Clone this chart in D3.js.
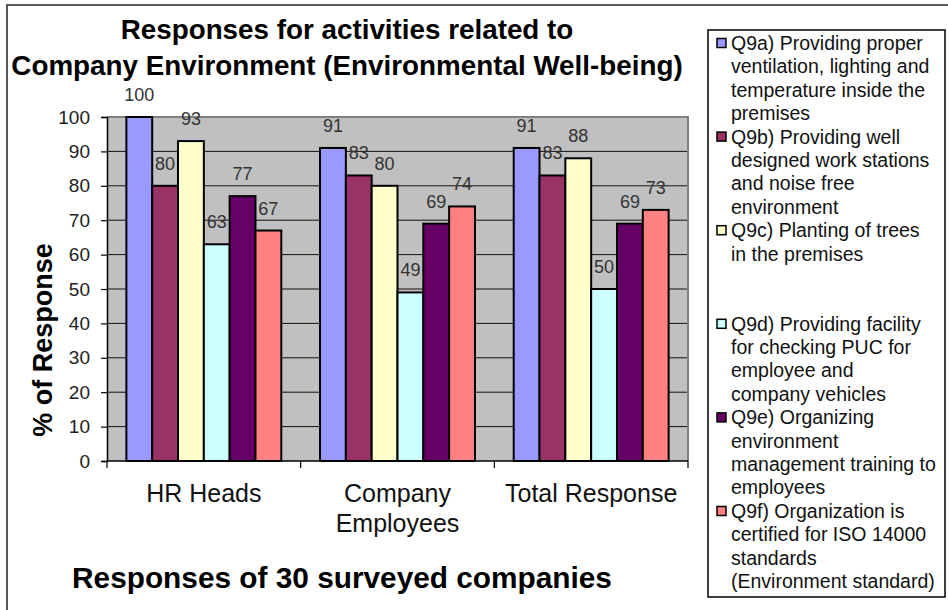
<!DOCTYPE html>
<html>
<head>
<meta charset="utf-8">
<script src="https://cdn.jsdelivr.net/npm/d3@7"></script>
<style>
  html, body { margin: 0; padding: 0; background: #fff; }
  svg { display: block; font-family: "Liberation Sans", Arial, sans-serif; }
</style>
</head>
<body>
<svg id="chart" width="948" height="610"></svg>
<script>
// Survey groups along the x axis
const categories = ["HR Heads", "Company Employees", "Total Response"];

// Percentage of positive responses per activity (Q9a..Q9f)
const seriesNames = [
  "Q9a) Providing proper ventilation, lighting and temperature inside the premises",
  "Q9b) Providing well designed work stations and noise free environment",
  "Q9c) Planting of trees in the premises",
  "Q9d) Providing facility for checking PUC for employee and company vehicles",
  "Q9e) Organizing environment management training to employees",
  "Q9f) Organization is certified for ISO 14000 standards (Environment standard)"
];
const q9a = [100, 91, 91];
const q9b = [80, 83, 83];
const q9c = [93, 80, 88];
const q9d = [63, 49, 50];
const q9e = [77, 69, 69];
const q9f = [67, 74, 73];
const seriesValues = [q9a, q9b, q9c, q9d, q9e, q9f];

// Legend text, broken into the lines shown in the legend box
const legendLines = [
  ["Q9a) Providing proper", "ventilation, lighting and", "temperature inside the", "premises"],
  ["Q9b) Providing well", "designed work stations", "and noise free", "environment"],
  ["Q9c) Planting of trees", "in the premises"],
  ["Q9d) Providing facility", "for checking PUC for", "employee and", "company vehicles"],
  ["Q9e) Organizing", "environment", "management training to", "employees"],
  ["Q9f) Organization is", "certified for ISO 14000", "standards", "(Environment standard)"]
];

const yTicks = [0, 10, 20, 30, 40, 50, 60, 70, 80, 90, 100];
const colors = ["#9999FF", "#993366", "#FFFFCC", "#CCFFFF", "#660066", "#FF8080"];

const titleLines = ["Responses for activities related to", "Company Environment (Environmental Well-being)"];
const xTitle = "Responses of 30 surveyed companies";
const yTitle = "% of Response";

const svg = d3.select("#chart");

// Outer frame (top and left edges)
svg.append("path")
  .attr("d", "M7,610 L7,5 L948,5")
  .attr("fill", "none").attr("stroke", "#222").attr("stroke-width", 1.5);

// Plot area geometry
const plot = { left: 107, right: 688, top: 117, bottom: 461 };

const x0 = d3.scaleBand().domain(categories).range([plot.left, plot.right]).paddingInner(0).paddingOuter(0);
const y = d3.scaleLinear().domain([0, 100]).range([plot.bottom, plot.top]);

// Bars: 6 per group with a 150% gap width split on both sides
const barW = x0.bandwidth() / 7.5;
const x1 = d3.scaleBand().domain(d3.range(seriesValues.length))
  .range([0.75 * barW, x0.bandwidth() - 0.75 * barW]).padding(0);

// Gray plot background
svg.append("rect")
  .attr("x", plot.left).attr("y", plot.top)
  .attr("width", plot.right - plot.left).attr("height", plot.bottom - plot.top)
  .attr("fill", "#C0C0C0");

// Horizontal gridlines
svg.append("g").selectAll("line")
  .data(yTicks.filter(t => t > 0 && t < 100))
  .join("line")
  .attr("x1", plot.left).attr("x2", plot.right)
  .attr("y1", d => y(d)).attr("y2", d => y(d))
  .attr("stroke", "#111").attr("stroke-width", 1);

// Plot border (top and right in gray)
svg.append("path")
  .attr("d", `M${plot.left},${plot.top} L${plot.right},${plot.top} L${plot.right},${plot.bottom}`)
  .attr("fill", "none").attr("stroke", "#808080").attr("stroke-width", 2);

// Bars
const rows = [];
categories.forEach((c, ci) => {
  seriesValues.forEach((vals, si) => rows.push({ cat: c, s: si, v: vals[ci] }));
});

svg.append("g").selectAll("rect")
  .data(rows)
  .join("rect")
  .attr("x", d => x0(d.cat) + x1(d.s))
  .attr("y", d => y(d.v))
  .attr("width", x1.bandwidth())
  .attr("height", d => y(0) - y(d.v))
  .attr("fill", d => colors[d.s])
  .attr("stroke", "#000").attr("stroke-width", 2);

// Value labels above bars
svg.append("g").selectAll("text")
  .data(rows)
  .join("text")
  .attr("x", d => x0(d.cat) + x1(d.s) + x1.bandwidth() / 2)
  .attr("y", d => y(d.v) - 16)
  .attr("text-anchor", "middle")
  .attr("font-size", 18)
  .attr("fill", "#333")
  .text(d => d.v);

// Y axis
const yAxis = d3.axisLeft(y).tickValues(yTicks).tickSize(6).tickPadding(11);
const gy = svg.append("g").attr("transform", `translate(${plot.left},0)`).call(yAxis);
gy.select(".domain").attr("stroke", "#000").attr("stroke-width", 1.5);
gy.selectAll(".tick line").attr("stroke", "#000").attr("stroke-width", 1.2);
gy.selectAll(".tick text").attr("font-size", 19).attr("fill", "#222")
  .attr("font-family", "Liberation Sans, Arial, sans-serif");

// X axis with ticks at category boundaries
const gx = svg.append("g").attr("transform", `translate(0,${plot.bottom})`);
gx.append("line").attr("x1", plot.left).attr("x2", plot.right)
  .attr("stroke", "#000").attr("stroke-width", 1.5);
const boundaries = categories.map(c => x0(c)).concat([x0(categories[categories.length - 1]) + x0.bandwidth()]);
gx.selectAll("line.tk").data(boundaries).join("line").attr("class", "tk")
  .attr("x1", d => d).attr("x2", d => d).attr("y1", 0).attr("y2", 7)
  .attr("stroke", "#000").attr("stroke-width", 1.2);

// Category labels, wrapped to the band width
const catText = svg.append("g").selectAll("text")
  .data(categories)
  .join("text")
  .attr("text-anchor", "middle")
  .attr("font-size", 25)
  .attr("fill", "#111");
catText.each(function (c) {
  const t = d3.select(this);
  const cx = x0(c) + x0.bandwidth() / 2;
  t.text(c);
  let lines = [c];
  if (this.getComputedTextLength() > x0.bandwidth()) lines = c.split(" ");
  t.text(null);
  lines.forEach((ln, i) => {
    t.append("tspan").attr("x", cx).attr("y", 502 + i * 30).text(ln);
  });
});

// Chart title
svg.append("g").selectAll("text")
  .data(titleLines)
  .join("text")
  .attr("x", 347)
  .attr("y", (d, i) => 39 + i * 36)
  .attr("text-anchor", "middle")
  .attr("font-size", 27.8).attr("font-weight", "bold")
  .attr("fill", "#000")
  .text(d => d);

// Axis titles
svg.append("text")
  .attr("x", 342).attr("y", 588)
  .attr("text-anchor", "middle")
  .attr("font-size", 29.8).attr("font-weight", "bold")
  .attr("fill", "#000")
  .text(xTitle);

svg.append("text")
  .attr("transform", "translate(52,340) rotate(-90)")
  .attr("text-anchor", "middle")
  .attr("font-size", 27).attr("font-weight", "bold")
  .attr("fill", "#000")
  .text(yTitle);

// Legend
const legend = svg.append("g");
legend.append("rect")
  .attr("x", 708).attr("y", 30).attr("width", 237).attr("height", 567)
  .attr("fill", "#fff").attr("stroke", "#000").attr("stroke-width", 1.5);

const entryH = 93.6, lineH = 23.3, firstY = 43;
legendLines.forEach((lines, i) => {
  const cy = firstY + i * entryH;
  legend.append("rect")
    .attr("x", 717).attr("y", cy - 4.5).attr("width", 9).attr("height", 9)
    .attr("fill", colors[i]).attr("stroke", "#000").attr("stroke-width", 1.5);
  const t = legend.append("text").attr("font-size", 19.5).attr("fill", "#111");
  lines.forEach((ln, j) => {
    t.append("tspan").attr("x", 731).attr("y", cy + 7 + j * lineH).text(ln);
  });
});
</script>
</body>
</html>
